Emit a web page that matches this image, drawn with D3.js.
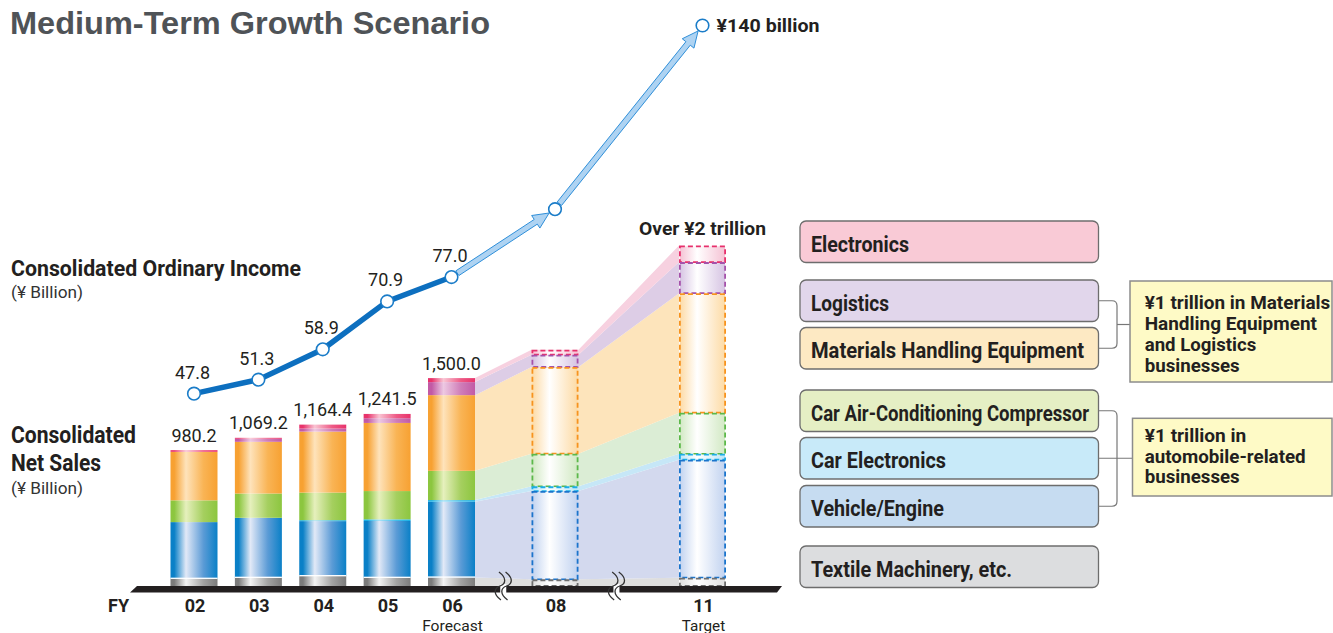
<!DOCTYPE html>
<html>
<head>
<meta charset="utf-8">
<script src="https://cdn.jsdelivr.net/npm/d3@7"></script>
<style>
  body { margin: 0; background: #fff; }
  svg { display: block; font-family: Roboto, "Liberation Sans", Arial, sans-serif; }
</style>
</head>
<body>
<svg id="chart" width="1333" height="633"></svg>
<script>
// ---- Data (¥ billion) ----
const fiscalYears = [2002, 2003, 2004, 2005, 2006, 2008, 2011];
const yearLabels  = ["02", "03", "04", "05", "06", "08", "11"];
const yearNotes   = ["", "", "", "", "Forecast", "", "Target"];

// Net sales by business segment
const textile          = [53, 60, 72, 60, 62, 48, 60];
const vehicleEngine    = [408, 432.2, 396, 409, 546, 637, 851];
const carElectronics   = [0, 0, 7, 12, 12, 34, 43];
const compressor       = [157, 175, 199, 204, 211, 236, 296];
const materialsHandling = [350, 373, 440, 491.5, 546, 625, 863];
const logistics        = [0, 22, 22, 34, 94, 89, 224];
const electronics      = [12.2, 7, 28.4, 31, 29, 36, 120];

// Consolidated ordinary income
const ordinaryIncome = [47.8, 51.3, 58.9, 70.9, 77.0, 94, 140];

const segmentNames = ["Textile Machinery, etc.", "Vehicle/Engine", "Car Electronics",
  "Car Air-Conditioning Compressor", "Materials Handling Equipment", "Logistics", "Electronics"];
const noteMaterials = ["¥1 trillion in Materials", "Handling Equipment", "and Logistics", "businesses"];
const noteAuto = ["¥1 trillion in", "automobile-related", "businesses"];
const axisBreaks = [2007, 2009.25];

// ---- Setup ----
const svg = d3.select("#chart");
const defs = svg.append("defs");
const keys = ["textile", "vehicle", "carElec", "compressor", "mhe", "logistics", "electronics"];
const seriesArrays = [textile, vehicleEngine, carElectronics, compressor, materialsHandling, logistics, electronics];
const rows = fiscalYears.map((fy, i) => {
  const r = { fy, idx: i };
  keys.forEach((k, j) => r[k] = seriesArrays[j][i]);
  return r;
});
const stacked = d3.stack().keys(keys)(rows);
const totals = rows.map(r => d3.sum(keys, k => r[k]));
const ACTUAL = 5; // first five years are actual / forecast bars

const x = d3.scaleLinear().domain([2002, 2006, 2008, 2011]).range([194, 451.5, 555, 702.5]);
const ySales = d3.scaleLinear().domain([0, 2500]).range([586, 239.5]);
const yIncome = d3.scaleLinear().domain([0, 140]).range([584.5, 25.5]);
const barW = 47;

const style = {
  textile:     { base: "#7c7c7c", hi: "#f4f4f4", mid: "#a3a3a3", ribbon: "#dedede", proj: "#e0e0e0", dash: "#6e6e6e", legend: "#dcdddf" },
  vehicle:     { base: "#0a80c7", hi: "#e2e9f7", mid: "#5b9bd6", ribbon: "#d3d9ee", proj: "#c2d3f0", dash: "#1b74cc", legend: "#c6dcf1" },
  carElec:     { base: "#19b0e6", hi: "#a8e2f8", mid: "#40bdea", ribbon: "#c6e7f7", proj: "#bde5f8", dash: "#1caee6", legend: "#c8eaf9" },
  compressor:  { base: "#8cc63f", hi: "#e6f0bd", mid: "#a5cf5f", ribbon: "#dbedd5", proj: "#d2e9c4", dash: "#5cb84a", legend: "#e5efc4" },
  mhe:         { base: "#f7a132", hi: "#fee3bb", mid: "#f9b455", ribbon: "#fde4bb", proj: "#fddba6", dash: "#f7931e", legend: "#fde9c3" },
  logistics:   { base: "#c25aa5", hi: "#edc8e2", mid: "#cf7db8", ribbon: "#ddcde6", proj: "#d6c4e3", dash: "#a552aa", legend: "#e1d6eb" },
  electronics: { base: "#e8336b", hi: "#f9c4d3", mid: "#ee5a86", ribbon: "#f7d1e0", proj: "#f5c2d4", dash: "#e7306c", legend: "#f9cad6" }
};

// Gradients: shiny cylinders for actual bars, pale ones for targets
keys.forEach(k => {
  const s = style[k];
  const g = defs.append("linearGradient").attr("id", "solid-" + k).attr("x1", 0).attr("x2", 1).attr("y1", 0).attr("y2", 0);
  [[0, s.base], [0.08, s.base], [0.33, s.hi], [0.7, s.mid], [1, s.base]].forEach(([o, c]) =>
    g.append("stop").attr("offset", o).attr("stop-color", c));
  const p = defs.append("linearGradient").attr("id", "proj-" + k).attr("x1", 0).attr("x2", 1).attr("y1", 0).attr("y2", 0);
  [[0, s.proj], [0.38, "#ffffff"], [1, s.proj]].forEach(([o, c]) =>
    p.append("stop").attr("offset", o).attr("stop-color", c));
});

const fit = (sel, w) => sel.attr("textLength", w).attr("lengthAdjust", "spacingAndGlyphs");

// ---- Ribbons linking forecast to targets ----
const gRibbons = svg.append("g");
const area = d3.area().x(d => d.x).y0(d => ySales(d.y0)).y1(d => ySales(d.y1));
stacked.forEach(layer => {
  const a = layer[4], b = layer[5], c = layer[6];
  const pts = [
    { x: x(fiscalYears[4]) + barW / 2, y0: a[0], y1: a[1] },
    { x: x(fiscalYears[5]) - barW / 2, y0: b[0], y1: b[1] },
    { x: x(fiscalYears[5]) + barW / 2, y0: b[0], y1: b[1] },
    { x: x(fiscalYears[6]) - barW / 2, y0: c[0], y1: c[1] }
  ];
  gRibbons.append("path").attr("d", area(pts)).attr("fill", style[layer.key].ribbon);
});

// ---- Actual bars ----
const gBars = svg.append("g");
stacked.forEach(layer => {
  const k = layer.key;
  gBars.selectAll(null)
    .data(layer.filter(d => d.data.idx < ACTUAL && d[1] > d[0]))
    .join("rect")
    .attr("x", d => x(d.data.fy) - barW / 2)
    .attr("width", barW)
    .attr("y", d => ySales(d[1]))
    .attr("height", d => ySales(d[0]) - ySales(d[1]))
    .attr("fill", `url(#solid-${k})`);
});
// thin white seam above textile segment
gBars.selectAll(null)
  .data(stacked[0].filter(d => d.data.idx < ACTUAL))
  .join("rect")
  .attr("x", d => x(d.data.fy) - barW / 2)
  .attr("width", barW)
  .attr("y", d => ySales(d[1]) - 1)
  .attr("height", 1.3)
  .attr("fill", "#fff");

// ---- Target bars (dashed) ----
const gProj = svg.append("g");
stacked.slice().reverse().forEach(layer => {
  const k = layer.key;
  gProj.selectAll(null)
    .data(layer.filter(d => d.data.idx >= ACTUAL))
    .join("rect")
    .attr("x", d => x(d.data.fy) - barW / 2 + 0.9)
    .attr("width", barW - 1.8)
    .attr("y", d => ySales(d[1]) + 0.9)
    .attr("height", d => Math.max(0, ySales(d[0]) - ySales(d[1]) - 0.9))
    .attr("fill", `url(#proj-${k})`)
    .attr("stroke", style[k].dash)
    .attr("stroke-width", 1.8)
    .attr("stroke-dasharray", "5,3");
});

// ---- Axis band and breaks ----
svg.append("path")
  .attr("d", "M137,586 L782,586 L777,592.5 L130,592.5 Z")
  .attr("fill", "#231f20");

axisBreaks.forEach(b => {
  const cx = x(b);
  const curve = dx => `M${cx + dx - 1},572 C${cx + dx + 7},578 ${cx + dx + 6},584 ${cx + dx},586 C${cx + dx - 6},588 ${cx + dx - 7},594 ${cx + dx + 1},600`;
  svg.append("rect").attr("x", cx - 3).attr("y", 584).attr("width", 6).attr("height", 10).attr("fill", "#fff");
  [-3.3, 3.3].forEach(dx =>
    svg.append("path").attr("d", curve(dx)).attr("fill", "none").attr("stroke", "#333").attr("stroke-width", 1.3));
});

// ---- Ordinary income line ----
const pts = fiscalYears.map((fy, i) => ({ x: x(fy), y: yIncome(ordinaryIncome[i]), v: ordinaryIncome[i] }));
svg.append("path")
  .attr("d", d3.line().x(d => d.x).y(d => d.y)(pts.slice(0, ACTUAL)))
  .attr("fill", "none").attr("stroke", "#0d6fbf").attr("stroke-width", 5.5);

function arrowPath(p0, p1) {
  const dx = p1.x - p0.x, dy = p1.y - p0.y, len = Math.hypot(dx, dy);
  const ux = dx / len, uy = dy / len, nx = -uy, ny = ux;
  const r = 7, hw = 2.8, hh = 7.5, hl = 16;
  const s = { x: p0.x + ux * r, y: p0.y + uy * r };
  const t = { x: p1.x - ux * r, y: p1.y - uy * r };
  const b = { x: t.x - ux * hl, y: t.y - uy * hl };
  const P = [
    [s.x + nx * hw, s.y + ny * hw], [b.x + nx * hw, b.y + ny * hw], [b.x + nx * hh, b.y + ny * hh],
    [t.x, t.y],
    [b.x - nx * hh, b.y - ny * hh], [b.x - nx * hw, b.y - ny * hw], [s.x - nx * hw, s.y - ny * hw]
  ];
  return "M" + P.map(p => p.join(",")).join("L") + "Z";
}
[[4, 5], [5, 6]].forEach(([a, b]) =>
  svg.append("path").attr("d", arrowPath(pts[a], pts[b]))
    .attr("fill", "#aed3f2").attr("stroke", "#2f8fd9").attr("stroke-width", 1).attr("stroke-linejoin", "miter"));

svg.selectAll(null).data(pts).join("circle")
  .attr("cx", d => d.x).attr("cy", d => d.y).attr("r", 6.3)
  .attr("fill", "#fff").attr("stroke", "#1a7cc8").attr("stroke-width", 1.6);

// income labels
svg.selectAll(null).data(pts.slice(0, ACTUAL)).join("text")
  .attr("x", d => d.x - 1.5).attr("y", d => d.y - 15)
  .attr("text-anchor", "middle").attr("font-size", 18).attr("fill", "#231f20")
  .text(d => d3.format(".1f")(d.v));
fit(svg.append("text")
  .attr("x", pts[6].x + 14).attr("y", pts[6].y + 6.7)
  .attr("font-size", 19).attr("font-weight", "bold").attr("fill", "#231f20")
  .text(`¥${ordinaryIncome[6]} billion`), 103);

// net sales labels
svg.selectAll(null).data(rows.filter(r => r.idx < ACTUAL)).join("text")
  .attr("x", d => x(d.fy)).attr("y", d => ySales(totals[d.idx]) - 8.5)
  .attr("text-anchor", "middle").attr("font-size", 18).attr("fill", "#231f20")
  .text(d => d3.format(",.1f")(totals[d.idx]));
fit(svg.append("text")
  .attr("x", x(fiscalYears[6])).attr("y", ySales(totals[6]) - 10)
  .attr("text-anchor", "middle").attr("font-size", 19).attr("font-weight", "bold").attr("fill", "#231f20")
  .text("Over ¥2 trillion"), 127);

// ---- Fiscal year axis labels ----
svg.append("text").attr("x", 108).attr("y", 612.3)
  .attr("font-size", 18).attr("font-weight", "bold").attr("fill", "#231f20").text("FY");
svg.selectAll(null).data(fiscalYears).join("text")
  .attr("x", d => x(d) + 1).attr("y", 612.3)
  .attr("text-anchor", "middle").attr("font-size", 18).attr("font-weight", "bold").attr("fill", "#231f20")
  .text((d, i) => yearLabels[i]);
const noteW = { Forecast: 60.7, Target: 43.3 };
svg.selectAll(null).data(fiscalYears.filter((d, i) => yearNotes[i])).join("text")
  .attr("x", d => x(d) + 1).attr("y", 630.5)
  .attr("text-anchor", "middle").attr("font-size", 14.5).attr("fill", "#231f20")
  .text(d => yearNotes[fiscalYears.indexOf(d)])
  .each(function (d) { fit(d3.select(this), noteW[yearNotes[fiscalYears.indexOf(d)]]); });

// ---- Titles ----
fit(svg.append("text").attr("x", 10).attr("y", 34)
  .attr("font-family", "'Liberation Sans', Arial, sans-serif")
  .attr("font-size", 32).attr("font-weight", "bold").attr("fill", "#4f5357")
  .text("Medium-Term Growth Scenario"), 480);

fit(svg.append("text").attr("x", 11).attr("y", 276)
  .attr("font-size", 22.5).attr("font-weight", "bold").attr("fill", "#231f20")
  .text("Consolidated Ordinary Income"), 290);
fit(svg.append("text").attr("x", 11).attr("y", 297.5)
  .attr("font-size", 16).attr("fill", "#333").text("(¥ Billion)"), 72);
fit(svg.append("text").attr("x", 11).attr("y", 442.7)
  .attr("font-size", 24.5).attr("font-weight", "bold").attr("fill", "#231f20").text("Consolidated"), 125);
fit(svg.append("text").attr("x", 11).attr("y", 471)
  .attr("font-size", 24.5).attr("font-weight", "bold").attr("fill", "#231f20").text("Net Sales"), 90);
fit(svg.append("text").attr("x", 11).attr("y", 493.5)
  .attr("font-size", 16).attr("fill", "#333").text("(¥ Billion)"), 72);

// ---- Segment legend ----
const legendOrder = keys.slice().reverse();
const legendTops = [221, 280, 327.5, 390, 437.5, 485.5, 546];
const legendTextW = { electronics: 98, logistics: 78, mhe: 273, compressor: 278, carElec: 135, vehicle: 133, textile: 201 };
const boxX = 800, boxW = 298.5, boxH = 41.5;
const gLegend = svg.append("g");
legendOrder.forEach((k, i) => {
  const top = legendTops[i];
  gLegend.append("rect").attr("x", boxX).attr("y", top).attr("width", boxW).attr("height", boxH)
    .attr("rx", 6).attr("fill", style[k].legend).attr("stroke", "#6d6d6d").attr("stroke-width", 1.3);
  fit(gLegend.append("text").attr("x", 811).attr("y", top + 30.5)
    .attr("font-size", 22).attr("font-weight", "bold").attr("fill", "#231f20")
    .text(segmentNames[keys.indexOf(k)]), legendTextW[k]);
});

// brackets grouping segments into business areas
const mid = i => legendTops[i] + boxH / 2;
const bx = boxX + boxW, vx = 1117, rr = 5;
function bracket(iTop, iBot) {
  const y0 = mid(iTop), y1 = mid(iBot);
  return `M${bx},${y0} H${vx - rr} Q${vx},${y0} ${vx},${y0 + rr} V${y1 - rr} Q${vx},${y1} ${vx - rr},${y1} H${bx}`;
}
svg.append("path").attr("d", bracket(1, 2)).attr("fill", "none").attr("stroke", "#777").attr("stroke-width", 1.2);
svg.append("path").attr("d", `M${vx},${(mid(1) + mid(2)) / 2} H1130`).attr("stroke", "#777").attr("stroke-width", 1.2);
svg.append("path").attr("d", bracket(3, 5)).attr("fill", "none").attr("stroke", "#777").attr("stroke-width", 1.2);
svg.append("path").attr("d", `M${bx},${mid(4)} H1132.5`).attr("stroke", "#777").attr("stroke-width", 1.2);

// notes
function note(x0, y0, h, lines, widths, firstBase) {
  svg.append("rect").attr("x", x0).attr("y", y0).attr("width", 1332 - x0).attr("height", h)
    .attr("fill", "#fefac6").attr("stroke", "#8c8c8c").attr("stroke-width", 1.5);
  lines.forEach((t, i) => {
    fit(svg.append("text").attr("x", 1144.7).attr("y", firstBase + i * 20.8)
      .attr("font-size", 19).attr("font-weight", "bold").attr("fill", "#231f20").text(t), widths[i]);
  });
}
note(1130, 281, 101, noteMaterials, [185.6, 172.3, 111.6, 95], 309.3);
note(1132.5, 418.3, 77.7, noteAuto, [101.6, 161, 95], 441.7);
</script>
</body>
</html>
